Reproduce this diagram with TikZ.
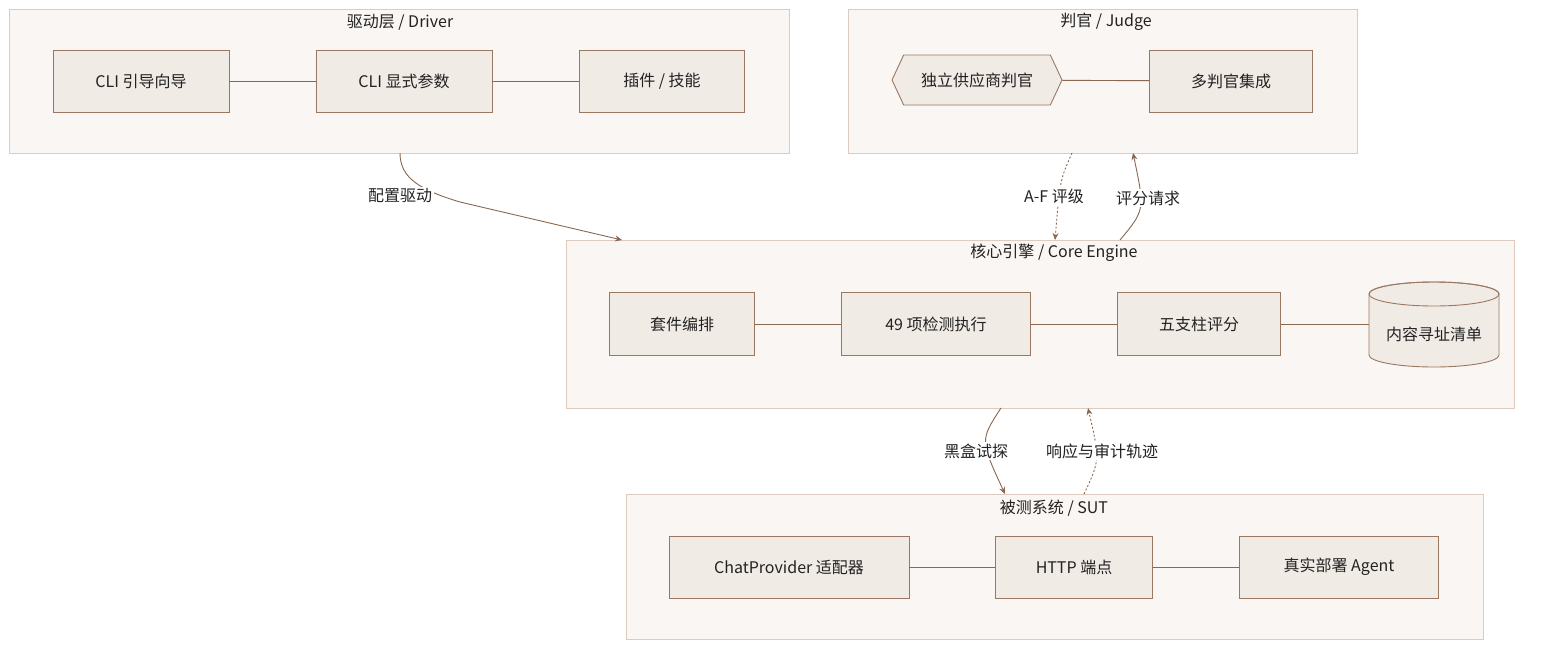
\documentclass[tikz,border=0pt]{standalone}
\usepackage{fontspec}
\setmainfont{Noto Sans CJK SC}
\usetikzlibrary{arrows.meta,shapes.geometric,shapes.symbols}
\definecolor{clf}{HTML}{FAF6F3}
\definecolor{cld}{HTML}{DCCBBE}
\definecolor{ndf}{HTML}{F1EBE6}
\definecolor{ndd}{HTML}{9A7761}
\definecolor{ln}{HTML}{8A6750}
\definecolor{tx}{HTML}{222222}
\begin{document}
\begin{tikzpicture}[x=1pt,y=-1pt,
  every node/.style={font=\fontsize{16}{19}\selectfont,text=tx},
  cl/.style={draw=cld,fill=clf,line width=0.9pt},
  nd/.style={draw=ndd,fill=ndf,line width=0.9pt,rectangle,inner sep=0pt},
  lk/.style={draw=ln,line width=0.9pt},
  ar/.style={lk,-{Stealth[length=7pt,width=6pt]}},
  lb/.style={fill=white,inner sep=2pt}]
\useasboundingbox (0,0) rectangle (1568,656);
% clusters
\draw[cl] (9,9) rectangle (789,153); \node (t1) at (400,22) {驱动层 / Driver};
\draw[cl] (848,9) rectangle (1357,153); \node (t2) at (1106,22) {判官 / Judge};
\draw[cl] (566,240) rectangle (1514,408); \node (t3) at (1054,253) {核心引擎 / Core Engine};
\draw[cl] (626,494) rectangle (1483,639); \node (t4) at (1054,508) {被测系统 / SUT};
% driver nodes
\node[nd,minimum width=176pt,minimum height=62pt] (a1) at (141,81) {CLI 引导向导};
\node[nd,minimum width=176pt,minimum height=62pt] (a2) at (404,81) {CLI 显式参数};
\node[nd,minimum width=165pt,minimum height=62pt] (a3) at (662,81) {插件 / 技能};
\draw[lk] (a1) -- (a2); \draw[lk] (a2) -- (a3);
% judge
\node[nd,shape=signal,signal to=west and east,signal pointer angle=130,minimum width=170pt,minimum height=50pt] (j1) at (977,80) {独立供应商判官};
\node[nd,minimum width=163pt,minimum height=62pt] (j2) at (1231,81) {多判官集成};
\draw[lk] (j1) -- (j2);
% core
\node[nd,minimum width=145pt,minimum height=63pt] (c1) at (682,324) {套件编排};
\node[nd,minimum width=189pt,minimum height=63pt] (c2) at (936,324) {49 项检测执行};
\node[nd,minimum width=163pt,minimum height=63pt] (c3) at (1199,324) {五支柱评分};
\draw[ndd,fill=ndf,line width=0.9pt] (1369,294) -- (1369,355) arc[start angle=180,end angle=0,x radius=65,y radius=12] -- (1499,294) arc[start angle=0,end angle=-180,x radius=65,y radius=12];
\draw[ndd,line width=0.9pt] (1434,294) ellipse [x radius=65,y radius=12];
\node (c4) at (1434,334) {内容寻址清单};
\coordinate (c4w) at (1369,324);
\draw[lk] (c1) -- (c2); \draw[lk] (c2) -- (c3); \draw[lk] (c3) -- (c4w);
% sut
\node[nd,minimum width=240pt,minimum height=62pt] (s1) at (789,567) {ChatProvider 适配器};
\node[nd,minimum width=157pt,minimum height=62pt] (s2) at (1074,567) {HTTP 端点};
\node[nd,minimum width=199pt,minimum height=62pt] (s3) at (1339,567) {真实部署 Agent};
\draw[lk] (s1) -- (s2); \draw[lk] (s2) -- (s3);
% inter-cluster
\coordinate (e1s) at (400,153); \coordinate (e1t) at (622,240);
\draw[ar] (e1s) .. controls (400,178) and (420,190) .. (460,202) -- (e1t);
\node[lb] (l1) at (400,196) {配置驱动};
\coordinate (e2s) at (1072,153); \coordinate (e2t) at (1055,240);
\draw[ar,dash pattern=on 2pt off 2pt] (e2s) .. controls (1060,180) .. (e2t);
\node[lb] (l2) at (1054,196) {A-F 评级};
\coordinate (e3s) at (1120,240); \coordinate (e3t) at (1133,153);
\draw[ar] (e3s) .. controls (1145,210) .. (e3t);
\node[lb] (l3) at (1148,198) {评分请求};
\coordinate (e4s) at (1001,408); \coordinate (e4t) at (1005,494);
\draw[ar] (e4s) .. controls (980,440) .. (e4t);
\node[lb] (l4) at (976,451) {黑盒试探};
\coordinate (e5s) at (1084,494); \coordinate (e5t) at (1088,408);
\draw[ar,dash pattern=on 2pt off 2pt] (e5s) .. controls (1100,460) .. (e5t);
\node[lb] (l5) at (1102,451) {响应与审计轨迹};
\end{tikzpicture}
\end{document}
